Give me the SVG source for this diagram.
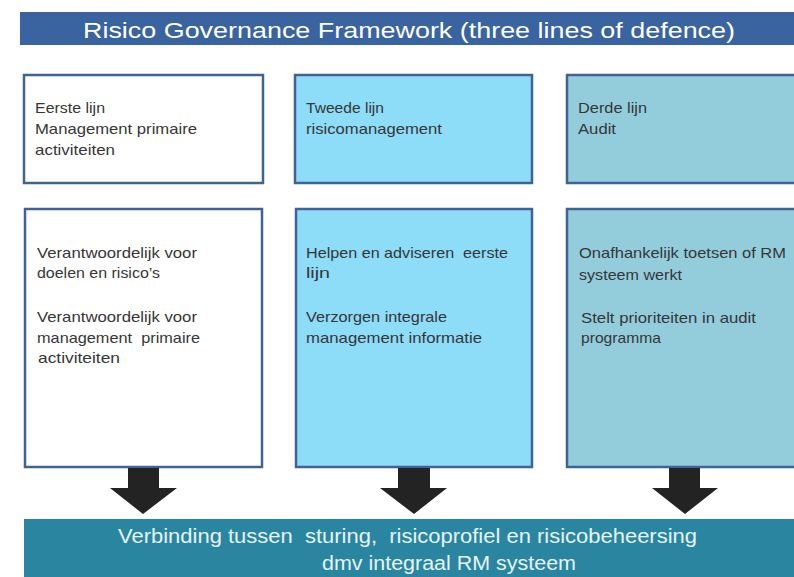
<svg xmlns="http://www.w3.org/2000/svg" width="794" height="577" viewBox="0 0 794 577">
<style>
.box{stroke:#3f6397;stroke-width:2.5}
.t{font-family:"Liberation Sans",Arial,sans-serif;font-size:15px;fill:#363636;white-space:pre}
.title{font-family:"Liberation Sans",Arial,sans-serif;font-size:22px;fill:#ffffff}
.bt{font-family:"Liberation Sans",Arial,sans-serif;font-size:20px;fill:#e6f3f7;white-space:pre}
.arrow{fill:#232323}
</style>
<rect x="0" y="0" width="794" height="577" fill="#ffffff"/>
<g id="title">
<rect x="20" y="12" width="780" height="33" fill="#3a64a0"/>
<text class="title" x="83" y="38" textLength="652" lengthAdjust="spacingAndGlyphs">Risico Governance Framework (three lines of defence)</text>
</g>
<g id="eerste-lijn">
<rect class="box" x="24" y="75" width="239" height="108" fill="#ffffff"/>
<text class="t" x="35" y="113" textLength="70" lengthAdjust="spacingAndGlyphs">Eerste lijn</text>
<text class="t" x="35" y="134" textLength="162" lengthAdjust="spacingAndGlyphs">Management primaire</text>
<text class="t" x="35" y="155" textLength="80" lengthAdjust="spacingAndGlyphs">activiteiten</text>
</g>
<g id="tweede-lijn">
<rect class="box" x="295" y="75" width="237" height="108" fill="#8ddcf8"/>
<text class="t" x="306" y="113" textLength="78" lengthAdjust="spacingAndGlyphs">Tweede lijn</text>
<text class="t" x="306" y="134" textLength="136" lengthAdjust="spacingAndGlyphs">risicomanagement</text>
</g>
<g id="derde-lijn">
<rect class="box" x="567" y="75" width="240" height="108" fill="#93cddc"/>
<text class="t" x="578" y="113" textLength="69" lengthAdjust="spacingAndGlyphs">Derde lijn</text>
<text class="t" x="578" y="134" textLength="38" lengthAdjust="spacingAndGlyphs">Audit</text>
</g>
<g id="eerste-lijn-taken">
<rect class="box" x="25" y="209" width="237" height="258" fill="#ffffff"/>
<text class="t" x="37" y="258" textLength="160" lengthAdjust="spacingAndGlyphs">Verantwoordelijk voor</text>
<text class="t" x="37" y="278" textLength="123" lengthAdjust="spacingAndGlyphs">doelen en risico’s</text>
<text class="t" x="37" y="322" textLength="160" lengthAdjust="spacingAndGlyphs">Verantwoordelijk voor</text>
<text class="t" x="37" y="343" textLength="163" lengthAdjust="spacingAndGlyphs">management  primaire</text>
<text class="t" x="38" y="363" textLength="82" lengthAdjust="spacingAndGlyphs">activiteiten</text>
</g>
<g id="tweede-lijn-taken">
<rect class="box" x="296" y="209" width="236" height="258" fill="#8ddcf8"/>
<text class="t" x="306" y="258" textLength="202" lengthAdjust="spacingAndGlyphs">Helpen en adviseren  eerste</text>
<text class="t" x="306" y="278" textLength="24" lengthAdjust="spacingAndGlyphs">lijn</text>
<text class="t" x="306" y="322" textLength="141" lengthAdjust="spacingAndGlyphs">Verzorgen integrale</text>
<text class="t" x="306" y="343" textLength="176" lengthAdjust="spacingAndGlyphs">management informatie</text>
</g>
<g id="derde-lijn-taken">
<rect class="box" x="567" y="209" width="240" height="258" fill="#93cddc"/>
<text class="t" x="579" y="258" textLength="207" lengthAdjust="spacingAndGlyphs">Onafhankelijk toetsen of RM</text>
<text class="t" x="579" y="280" textLength="103" lengthAdjust="spacingAndGlyphs">systeem werkt</text>
<text class="t" x="581" y="323" textLength="175" lengthAdjust="spacingAndGlyphs">Stelt prioriteiten in audit</text>
<text class="t" x="581" y="343" textLength="80" lengthAdjust="spacingAndGlyphs">programma</text>
</g>
<g id="connectors">
<polygon class="arrow" points="128,468 159,468 159,488 177,488 143,514 110,488 128,488"/>
<polygon class="arrow" points="398,468 430,468 430,488 447,488 414,514 380,488 398,488"/>
<polygon class="arrow" points="669,468 700,468 700,488 718,488 685,514 652,488 669,488"/>
</g>
<g id="integraal-rm-systeem">
<rect x="24" y="519" width="776" height="58" fill="#2a86a0"/>
<text class="bt" x="118" y="543" textLength="579" lengthAdjust="spacingAndGlyphs">Verbinding tussen  sturing,  risicoprofiel en risicobeheersing</text>
<text class="bt" x="322" y="570" textLength="254" lengthAdjust="spacingAndGlyphs">dmv integraal RM systeem</text>
</g>
</svg>
